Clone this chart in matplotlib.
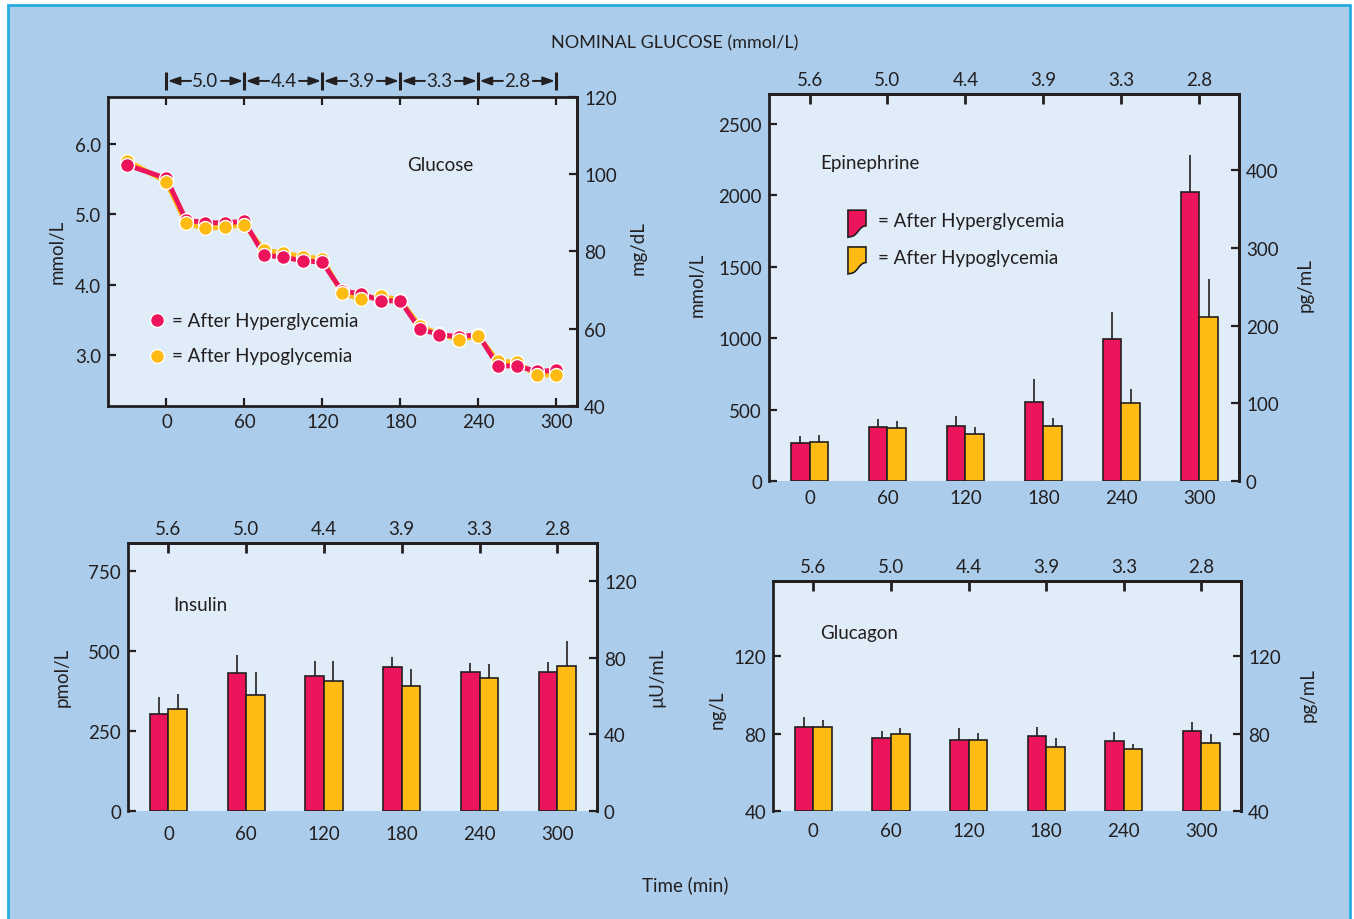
import numpy as np
import matplotlib.pyplot as plt
import matplotlib.transforms as mtransforms
from matplotlib.path import Path
from matplotlib.patches import PathPatch, Rectangle

plt.rcParams['font.family'] = ['Lato', 'DejaVu Sans']

INK = '#231F20'
RED = '#EC145A'
YEL = '#FDBB14'
BG = '#ABCDEB'
FACE = '#E0ECF8'
W, H = 1354, 920

# Glucose clamp (mmol/L), every 15 min
glucose_times = [-30, 0, 15, 30, 45, 60, 75, 90, 105, 120, 135, 150, 165, 180,
                 195, 210, 225, 240, 255, 270, 285, 300]
glucose_hyper = [5.70, 5.51, 4.92, 4.88, 4.88, 4.90, 4.42, 4.39, 4.34, 4.32, 3.91,
                 3.87, 3.77, 3.77, 3.37, 3.29, 3.26, 3.29, 2.85, 2.84, 2.77, 2.78]
glucose_hypo = [5.76, 5.46, 4.87, 4.80, 4.82, 4.85, 4.49, 4.45, 4.40, 4.37, 3.88,
                3.79, 3.84, 3.78, 3.41, 3.30, 3.22, 3.27, 2.91, 2.90, 2.71, 2.72]
step_bounds = [0, 60, 120, 180, 240, 300]
step_labels = ['5.0', '4.4', '3.9', '3.3', '2.8']

# bar panels
times = ['0', '60', '120', '180', '240', '300']
nominal = ['5.6', '5.0', '4.4', '3.9', '3.3', '2.8']

epi_hyper = [268, 376, 385, 553, 992, 2024]
epi_hyper_err = [49, 56, 70, 159, 194, 259]
epi_hypo = [271, 373, 329, 383, 544, 1151]
epi_hypo_err = [51, 50, 51, 56, 98, 264]

ins_hyper = [304, 431, 423, 451, 433, 433]
ins_hyper_err = [53, 56, 45, 30, 28, 33]
ins_hypo = [320, 361, 407, 389, 415, 452]
ins_hypo_err = [44, 73, 61, 56, 44, 78]

gcg_hyper = [83.7, 77.8, 76.8, 78.7, 76.0, 81.3]
gcg_hyper_err = [5.0, 3.5, 6.4, 5.0, 4.8, 4.6]
gcg_hypo = [83.7, 79.9, 76.8, 73.2, 72.0, 75.4]
gcg_hypo_err = [3.4, 3.3, 3.8, 4.5, 2.9, 4.2]

FS = 13.5

fig = plt.figure(figsize=(W / 100, H / 100), dpi=100)
fig.patch.set_facecolor('white')
fig.patches.append(Rectangle((8 / W, -0.02), (1350 - 8) / W, (H - 6) / H + 0.02,
                             transform=fig.transFigure, facecolor=BG,
                             edgecolor='#29ABE2', lw=2, zorder=-10))


def px_axes(left, top, right, bottom):
    return fig.add_axes([left / W, 1 - bottom / H, (right - left) / W, (bottom - top) / H])


def style(ax, bottom_spine=True):
    ax.set_facecolor(FACE)
    for s in ax.spines.values():
        s.set_linewidth(2)
        s.set_color(INK)
    ax.spines['bottom'].set_visible(bottom_spine)
    ax.tick_params(direction='in', length=6, width=1.6, colors=INK, labelsize=FS, pad=5)


def right_axis(ax, ylim, ticks):
    ax2 = ax.twinx()
    ax2.set_ylim(ylim)
    ax2.set_yticks(ticks)
    for name, s in ax2.spines.items():
        s.set_visible(name == 'right')
        s.set_linewidth(2)
        s.set_color(INK)
    ax2.tick_params(direction='in', length=6, width=1.6, colors=INK, labelsize=FS, pad=5)
    return ax2


def bar_panel(rect, hyper, hyper_err, hypo, hypo_err, ylim, yticks, ylim2, yticks2,
              base=0, xpad=6):
    ax = px_axes(*rect)
    style(ax, bottom_spine=False)
    x = np.arange(len(times))
    w = 0.24
    ax.bar(x - w / 2, np.subtract(hyper, base), w, bottom=base, color=RED,
           edgecolor=INK, lw=1.2, zorder=3)
    ax.bar(x + w / 2, np.subtract(hypo, base), w, bottom=base, color=YEL,
           edgecolor=INK, lw=1.2, zorder=3)
    ax.vlines(x - w / 2, hyper, np.add(hyper, hyper_err), color=INK, lw=1.2, zorder=2)
    ax.vlines(x + w / 2, hypo, np.add(hypo, hypo_err), color=INK, lw=1.2, zorder=2)
    ax.set_xlim(-0.52, 5.51)
    ax.set_ylim(ylim)
    ax.set_yticks(yticks)
    ax.set_xticks(x)
    ax.set_xticklabels(times)
    ax.tick_params(axis='x', length=0, pad=xpad)
    ax.tick_params(right=False)
    top = ax.secondary_xaxis('top')
    top.set_xticks(x)
    top.set_xticklabels(nominal)
    top.spines['top'].set_linewidth(2)
    top.spines['top'].set_color(INK)
    top.tick_params(direction='in', length=7, width=2, colors=INK, labelsize=FS, pad=4)
    right_axis(ax, ylim2, yticks2)
    return ax


# ---- Glucose ----
ax = px_axes(108, 98, 577, 407)
style(ax)
ax.plot(glucose_times, glucose_hypo, color=YEL, lw=3.5, zorder=3)
ax.plot(glucose_times, glucose_hyper, color=RED, lw=3.5, zorder=4)
ax.plot(glucose_times, glucose_hyper, 'o', color=RED, ms=10, mec='white', mew=1, zorder=5)
ax.plot(glucose_times, glucose_hypo, 'o', color=YEL, ms=10, mec='white', mew=1, zorder=6)
# where the red point sits lower, it is drawn on top
red_low = np.array(glucose_hyper) < np.array(glucose_hypo)
ax.plot(np.array(glucose_times)[red_low], np.array(glucose_hyper)[red_low], 'o', color=RED,
        ms=10, mec='white', mew=1, zorder=7)
ax.set_xlim(-45, 316)
ax.set_ylim(2.275, 6.668)
ax.set_xticks(step_bounds)
ax.set_yticks([3.0, 4.0, 5.0, 6.0])
ax.set_yticklabels(['3.0', '4.0', '5.0', '6.0'])
ax.tick_params(top=True, right=False)
right_axis(ax, (40, 119.5), [40, 60, 80, 100, 120])
ax.text(0.708, 0.783, 'Glucose', transform=ax.transAxes, ha='center', va='center',
        fontsize=FS, color=INK)
ax.plot([0.1045], [0.278], 'o', color=RED, ms=10, mec='white', mew=1, transform=ax.transAxes)
ax.plot([0.1045], [0.162], 'o', color=YEL, ms=10, mec='white', mew=1, transform=ax.transAxes)
ax.text(0.1365, 0.278, '= After Hyperglycemia', transform=ax.transAxes, va='center',
        fontsize=FS, color=INK)
ax.text(0.1365, 0.162, '= After Hypoglycemia', transform=ax.transAxes, va='center',
        fontsize=FS, color=INK)

# nominal glucose steps above the glucose panel
trans = mtransforms.blended_transform_factory(ax.transData, ax.transAxes)
yb = 1.052
ax.plot(step_bounds, [yb] * len(step_bounds), '|', ms=13, mew=2.2, color=INK,
        transform=trans, clip_on=False)
for a, b, lab in zip(step_bounds[:-1], step_bounds[1:], step_labels):
    m = (a + b) / 2
    ax.text(m, yb, lab, transform=trans, ha='center', va='center', fontsize=FS, color=INK)
    for end, start in ((a, m - 11), (b, m + 12)):
        ax.annotate('', xy=(end, yb), xytext=(start, yb), xycoords=trans, textcoords=trans,
                    arrowprops=dict(arrowstyle='-|>,head_length=0.7,head_width=0.25',
                                    color=INK, lw=1.4, shrinkA=0, shrinkB=1),
                    annotation_clip=False)

# ---- Epinephrine ----
ax = bar_panel((769, 95, 1239, 482), epi_hyper, epi_hyper_err, epi_hypo, epi_hypo_err,
               (0, 2710), [0, 500, 1000, 1500, 2000, 2500], (0, 498), [0, 100, 200, 300, 400])
ax.text(0.1085, 0.824, 'Epinephrine', transform=ax.transAxes, va='center',
        fontsize=FS, color=INK)
verts = [(0, 1), (1, 1), (1, 0.42), (0.6, 0.42), (0.55, 0.04), (0.15, 0.02), (0, 0), (0, 1)]
codes = [Path.MOVETO, Path.LINETO, Path.LINETO, Path.CURVE4, Path.CURVE4, Path.CURVE4,
         Path.LINETO, Path.CLOSEPOLY]
pw, ph = 18 / 470, 27 / 387
for y0, col, lab in ((0.630, RED, '= After Hyperglycemia'), (0.535, YEL, '= After Hypoglycemia')):
    tr = mtransforms.Affine2D().scale(pw, ph).translate(0.168, y0) + ax.transAxes
    ax.add_patch(PathPatch(Path(verts, codes), transform=tr, facecolor=col,
                           edgecolor=INK, lw=1.2, zorder=5))
    ax.text(0.232, y0 + ph * 0.6, lab, transform=ax.transAxes, va='center',
            fontsize=FS, color=INK)

# ---- Insulin ----
ax = bar_panel((128, 544, 597, 812), ins_hyper, ins_hyper_err, ins_hypo, ins_hypo_err,
               (0, 837), [0, 250, 500, 750], (0, 139.7), [0, 40, 80, 120], xpad=10)
ax.text(0.096, 0.769, 'Insulin', transform=ax.transAxes, va='center', fontsize=FS, color=INK)

# ---- Glucagon ----
ax = bar_panel((773, 582, 1241, 812), gcg_hyper, gcg_hyper_err, gcg_hypo, gcg_hypo_err,
               (40, 159), [40, 80, 120], (40, 159), [40, 80, 120], base=40, xpad=8)
ax.text(0.10, 0.774, 'Glucagon', transform=ax.transAxes, va='center', fontsize=FS, color=INK)

# axis labels and headings
labels = [('mmol/L', 57, 252), ('mg/dL', 638, 248), ('mmol/L', 697, 285), ('pg/mL', 1305, 285),
          ('pmol/L', 62, 677), ('µU/mL', 657, 677), ('ng/L', 717, 710), ('pg/mL', 1308, 695)]
for txt, xp, yp in labels:
    fig.text(xp / W, 1 - yp / H, txt, rotation=90, ha='center', va='center',
             fontsize=FS, color=INK)
fig.text(675 / W, 1 - 43 / H, 'NOMINAL GLUCOSE (mmol/L)', ha='center', va='center',
         fontsize=13, color=INK)
fig.text(685 / W, 1 - 885 / H, 'Time (min)', ha='center', va='center', fontsize=FS, color=INK)

fig.savefig('out.png', dpi=100, facecolor=fig.get_facecolor())
